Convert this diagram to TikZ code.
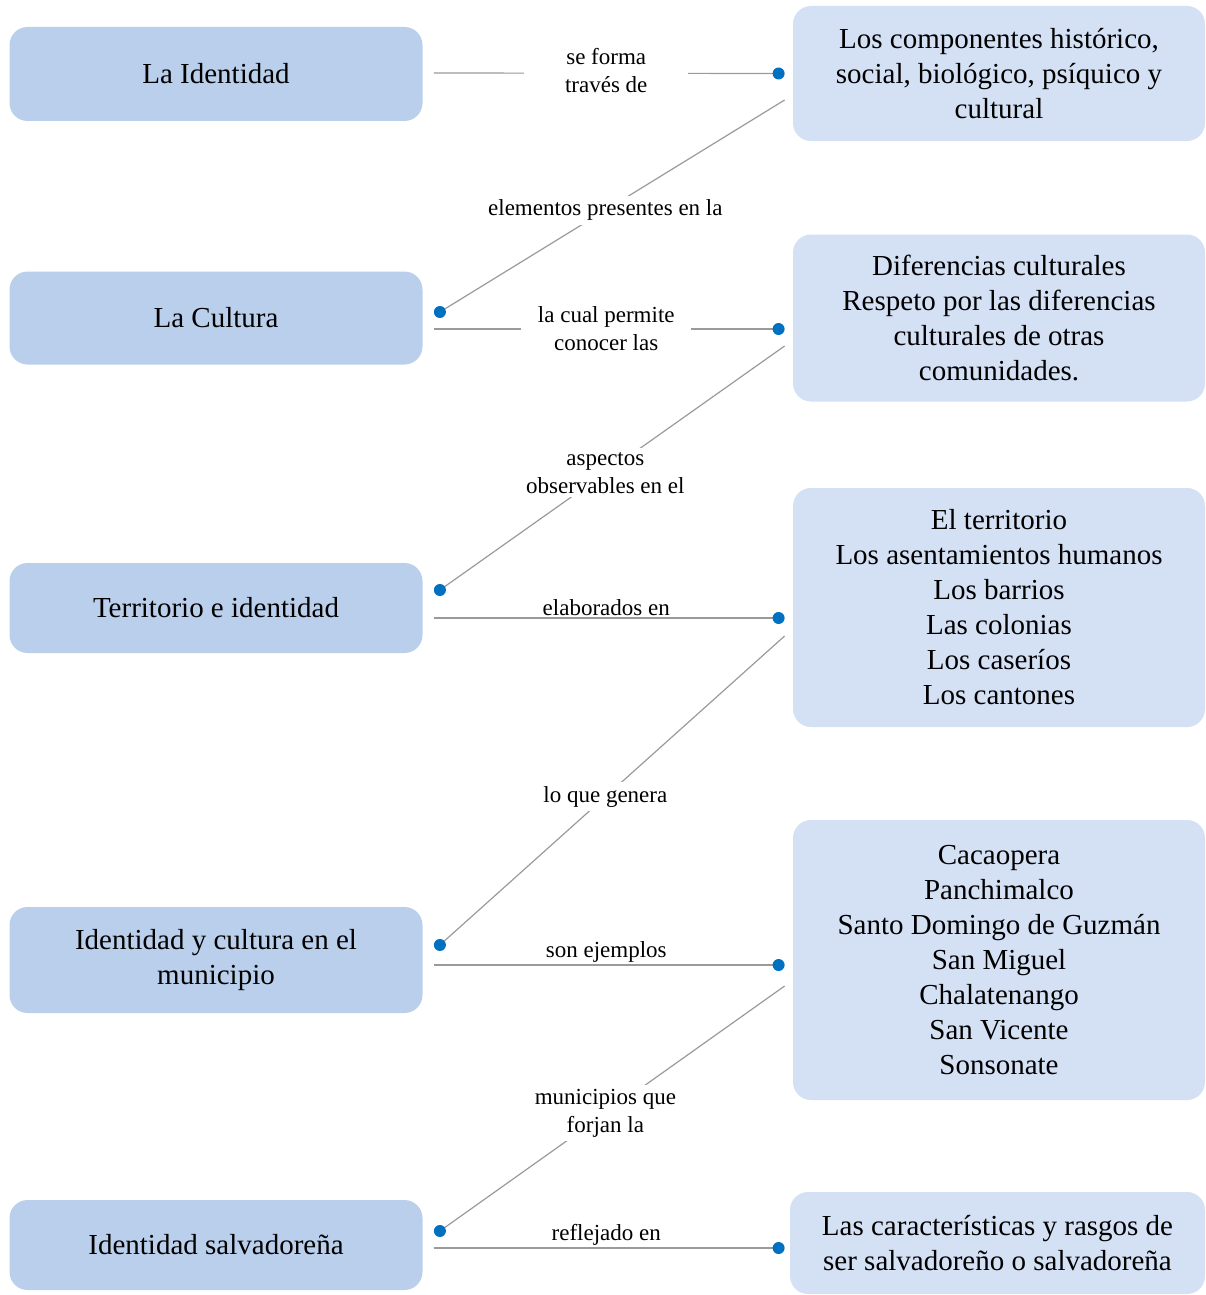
\documentclass[tikz,border=0pt]{standalone}
\usepackage{fontspec}
\setmainfont{Liberation Serif}
\definecolor{tema}{HTML}{BACFEC}
\definecolor{idea}{HTML}{D4E0F4}
\definecolor{punto}{HTML}{0070C0}
\definecolor{linea}{HTML}{9A9A9A}
\tikzset{
  tema/.style={fill=tema, rounded corners=9pt, minimum width=206.5pt,
    align=center, font=\fontsize{14.5}{17.5}\selectfont},
  idea/.style={fill=idea, rounded corners=9pt, minimum width=206pt,
    align=center, font=\fontsize{14.5}{17.5}\selectfont},
  enlace/.style={draw=linea, line width=0.6pt},
  punta/.style={fill=punto, draw=none, circle, inner sep=0pt, minimum size=6pt},
  rotulo/.style={fill=white, align=center, inner sep=2pt,
    font=\fontsize{11.5}{14}\selectfont},
}
\begin{document}
\begin{tikzpicture}[x=0.5pt, y=-0.5pt]%
\useasboundingbox (0,0) rectangle (1205,1295);%
% temas
\node [tema, minimum height=47pt] (ide) at (216,74) {La Identidad};%
\node [tema, minimum height=46.5pt] (cul) at (216,318) {La Cultura};%
\node [tema, minimum height=45pt] (ter) at (216,608) {Territorio e identidad};%
\node [tema, minimum height=53pt] (mun) at (216,960) {Identidad y cultura en el\\municipio};%
\node [tema, minimum height=45pt] (sal) at (216,1245) {Identidad salvadoreña};%
% ideas
\node [idea, minimum height=67.5pt] (com) at (999,73.5) {%
  Los componentes histórico,\\social, biológico, psíquico y\\cultural};%
\node [idea, minimum height=83.5pt] (dif) at (999,318) {%
  Diferencias culturales\\Respeto por las diferencias\\culturales de otras\\comunidades.};%
\node [idea, minimum height=119.5pt] (ele) at (999,607.5) {%
  El territorio\\Los asentamientos humanos\\Los barrios\\Las colonias\\%
  Los caseríos\\Los cantones};%
\node [idea, minimum height=140pt] (cac) at (999,960) {%
  Cacaopera\\Panchimalco\\Santo Domingo de Guzmán\\San Miguel\\%
  Chalatenango\\San Vicente\\Sonsonate};%
\node [idea, minimum height=51pt, minimum width=207.5pt] (car) at (997.5,1243) {%
  Las características y rasgos de\\ser salvadoreño o salvadoreña};%
% enlaces horizontales
\draw [enlace] ([shift={(11,-1)}]ide.east) -- node [rotulo, minimum width=82pt, yshift=1.5pt] {se forma\\través de}
  ([shift={(-14,0)}]com.west) node [punta] {};%
\draw [enlace] ([shift={(11,11)}]cul.east) -- node [rotulo, minimum width=85pt] {la cual permite\\conocer las}
  ([shift={(-14,11)}]dif.west) node [punta] {};%
\draw [enlace] ([shift={(11,10)}]ter.east) -- node [rotulo, fill=none, above=-1pt] {elaborados en}
  ([shift={(-14,10.5)}]ele.west) node [punta] {};%
\draw [enlace] ([shift={(11,5)}]mun.east) -- node [rotulo, fill=none, above=-1pt] {son ejemplos}
  ([shift={(-14,5)}]cac.west) node [punta] {};%
\draw [enlace] ([shift={(11,3)}]sal.east) -- node [rotulo, fill=none, above=-1pt] {reflejado en}
  ([shift={(-11,5)}]car.west) node [punta] {};%
% enlaces diagonales
\draw [enlace] ([shift={(-8,26.5)}]com.west) -- node [rotulo, pos=0.52] {elementos presentes en la}
  ([shift={(17,-6)}]cul.east) node [punta] {};%
\draw [enlace] ([shift={(-8,28)}]dif.west) -- node [rotulo, pos=0.52] {aspectos\\observables en el}
  ([shift={(17,-18)}]ter.east) node [punta] {};%
\draw [enlace] ([shift={(-8,28.5)}]ele.west) -- node [rotulo, pos=0.52] {lo que genera}
  ([shift={(17,-15)}]mun.east) node [punta] {};%
\draw [enlace] ([shift={(-8,26)}]cac.west) -- node [rotulo, pos=0.52] {municipios que\\forjan la}
  ([shift={(17,-14)}]sal.east) node [punta] {};%
\end{tikzpicture}
\end{document}
